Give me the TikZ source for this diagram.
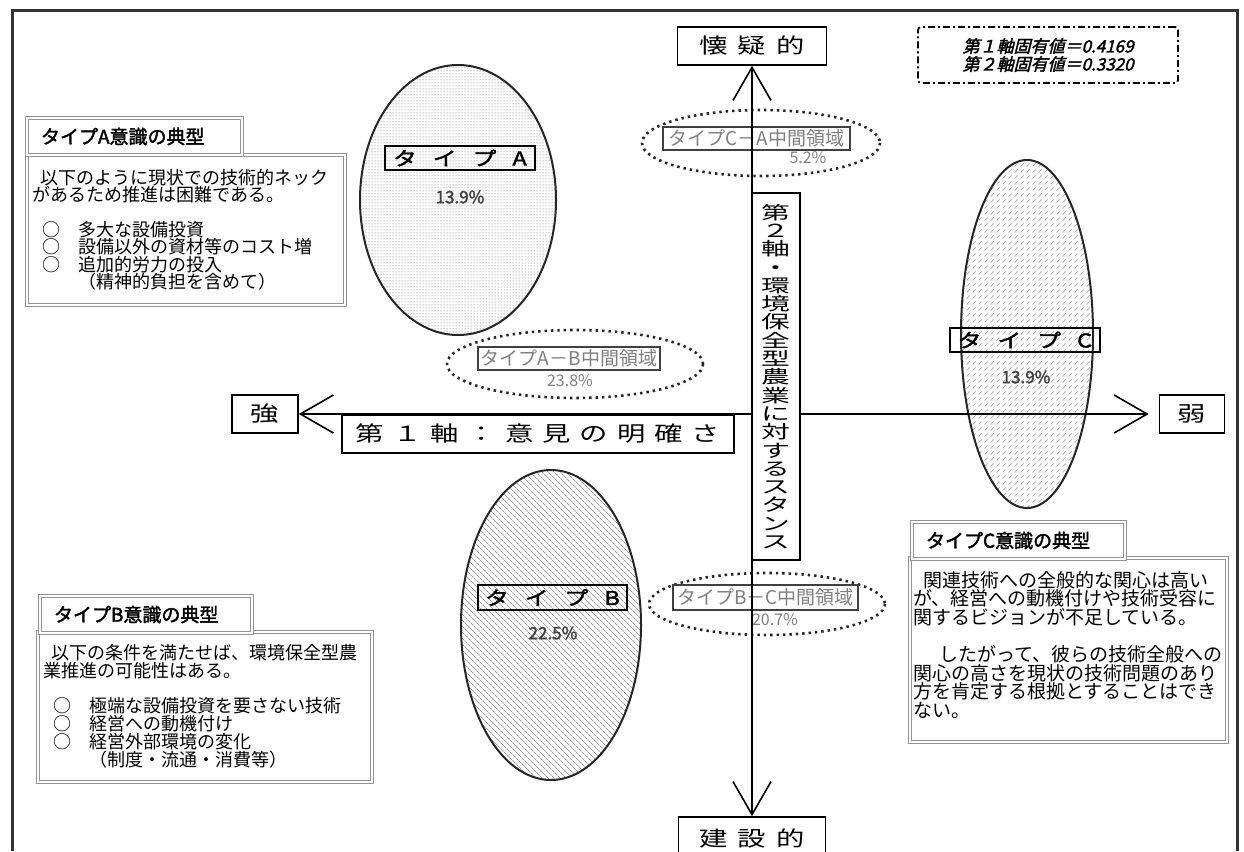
\documentclass[tikz,border=0pt]{standalone}
\usepackage{fontspec}
\setmainfont{Noto Sans CJK JP}
\newfontfamily\jpb[FakeBold=2]{Noto Sans CJK JP}
\newfontfamily\jpi[FakeSlant=0.25,FakeBold=2]{Noto Sans CJK JP}
\newfontfamily\jpw[FakeStretch=1.35]{Noto Sans CJK JP}
\newfontfamily\jpwb[FakeStretch=1.25,FakeBold=2]{Noto Sans CJK JP}
\newfontfamily\jpv[FakeStretch=1.6]{Noto Sans CJK JP}
\usetikzlibrary{arrows.meta,patterns,patterns.meta}
\lineskiplimit=-30pt
\newcommand\ggap{\hspace{16pt}}
\newcommand\agap{\hspace{9pt}}
\pgfdeclarepatternformonly{slashdash}{\pgfqpoint{-1pt}{-1pt}}{\pgfqpoint{7pt}{7pt}}{\pgfqpoint{6pt}{6pt}}{%
  \pgfsetlinewidth{0.7pt}\pgfpathmoveto{\pgfqpoint{0.5pt}{0.5pt}}\pgfpathlineto{\pgfqpoint{3.5pt}{3.5pt}}\pgfusepath{stroke}}
\begin{document}
\begin{tikzpicture}[x=1pt,y=-1pt,
  ell/.style={line width=2pt, draw=black!85},
  dotell/.style={line width=2.6pt, dash pattern=on 2.4pt off 4pt, draw=black!85},
  mlab/.style={draw, line width=2.4pt, minimum width=150pt, minimum height=24pt, inner sep=0pt, font=\jpwb\fontsize{19}{19}\selectfont},
  imlab/.style={draw=black!75, line width=1.3pt, minimum height=23pt, inner sep=1pt, text=black!50, font=\fontsize{19}{19}\selectfont},
  pct/.style={font=\jpb\fontsize{17}{17}\selectfont, text=black!75},
  ipct/.style={font=\fontsize{16}{16}\selectfont, text=black!50},
  alab/.style={draw, line width=1.6pt, fill=white, inner sep=0pt, font=\jpw\fontsize{21}{21}\selectfont},
  axisline/.style={line width=2.4pt, arrows={Straight Barb[length=33pt,width=38pt,line width=1.6pt]-Straight Barb[length=33pt,width=38pt,line width=1.6pt]}},
  dbox/.style={draw=gray!85, double=white, double distance=1.1pt, line width=1.3pt, fill=white, inner sep=0pt},
  tbox/.style={dbox, inner xsep=14pt, minimum height=37pt, align=left, font=\jpb\fontsize{19}{19}\selectfont},
  btxt/.style={anchor=north west, align=left, inner sep=0pt}
]
\useasboundingbox (0,0) rectangle (1244,851);
\clip (0,0) rectangle (1244,851);
\fill[white] (0,0) rectangle (1244,851);

% main ellipses
\draw[ell, pattern=dots, pattern color=black!60] (458,200) ellipse [x radius=98, y radius=135];
\draw[ell, pattern={Lines[angle=-45,distance=4pt,line width=0.8pt]}, pattern color=gray!80] (551,625) ellipse [x radius=90, y radius=155];
\draw[ell, pattern=slashdash, pattern color=gray!70] (1027,334) ellipse [x radius=66, y radius=174];

% intermediate dotted ellipses
\draw[dotell] (761,143) ellipse [x radius=119, y radius=33];
\draw[dotell] (575,364) ellipse [x radius=128, y radius=34];
\draw[dotell] (767,604) ellipse [x radius=118, y radius=31];

% type labels
\node[mlab] (labA) at (460,158) {タ\ggap イ\ggap プ\ggap A};
\node[pct] (pctA) at (460,197) {13.9\%};
\node[mlab, minimum width=149pt, minimum height=25pt] (labB) at (552.5,597.5) {タ\ggap イ\ggap プ\ggap B};
\node[pct] (pctB) at (553,633) {22.5\%};
\node[mlab] (labC) at (1025,340) {タ\ggap イ\ggap プ\ggap C};
\node[pct] (pctC) at (1026,377) {13.9\%};

\node[imlab, minimum width=187pt] (labCA) at (756.5,138.5) {タイプC－A中間領域};
\node[ipct] (pctCA) at (808,158) {5.2\%};
\node[imlab, minimum width=182pt] (labAB) at (569,358.5) {タイプA－B中間領域};
\node[ipct] (pctAB) at (570,381) {23.8\%};
\node[imlab, minimum width=185pt, minimum height=25pt] (labBC) at (765.5,597.5) {タイプB－C中間領域};
\node[ipct] (pctBC) at (775,620) {20.7\%};

% axis end labels
\node[alab, minimum width=149pt, minimum height=38pt] (kaigi) at (752,46) {懐\hspace{10pt}疑\hspace{10pt}的};
\node[alab, minimum width=147pt, minimum height=43pt] (kensetsu) at (752,838.5) {建\hspace{10pt}設\hspace{10pt}的};
\node[alab, minimum width=66pt, minimum height=38pt] (tsuyoi) at (265,414) {強};
\node[alab, minimum width=65pt, minimum height=38pt] (yowai) at (1192,414) {弱};

% axes
\draw[axisline] (kaigi.south) -- (kensetsu.north);
\draw[axisline, shorten >=10pt] (tsuyoi.east) -- (yowai.west);

% axis titles
\node[alab, minimum width=392pt, minimum height=38pt] (ax1) at (538,434) {第\agap １\agap 軸\agap ：\agap 意\agap 見\agap の\agap 明\agap 確\agap さ};
\node[draw, line width=1.6pt, fill=white, minimum width=48pt, minimum height=367pt, inner sep=0pt, align=center, font=\jpv\fontsize{18}{18.3}\selectfont] (ax2) at (776,376.5) {第\\２\\軸\\・\\環\\境\\保\\全\\型\\農\\業\\に\\対\\す\\る\\ス\\タ\\ン\\ス};

% type A description
\node[dbox, minimum width=318pt, minimum height=150pt] (aBody) at (186,230) {};
\node[tbox, text width=187pt] (aTitle) at (134.5,136.5) {タイプA意識の典型};
\node[btxt, font=\fontsize{18}{17.4}\selectfont] (aText) at (32,169) {%
\hspace*{8pt}以下のように現状での技術的ネック\\
があるため推進は困難である。\\
\mbox{}\\
\hspace*{10pt}○\hspace{18pt}多大な設備投資\\
\hspace*{10pt}○\hspace{18pt}設備以外の資材等のコスト増\\
\hspace*{10pt}○\hspace{18pt}追加的労力の投入\\
\hspace*{46pt}（精神的負担を含めて）};

% type B description
\node[dbox, minimum width=334pt, minimum height=150pt] (bBody) at (205,707) {};
\node[tbox, text width=184pt] (bTitle) at (146,614.5) {タイプB意識の典型};
\node[btxt, font=\fontsize{18}{17.8}\selectfont] (bText) at (43,644) {%
\hspace*{8pt}以下の条件を満たせば、環境保全型農\\
業推進の可能性はある。\\
\mbox{}\\
\hspace*{10pt}○\hspace{18pt}極端な設備投資を要さない技術\\
\hspace*{10pt}○\hspace{18pt}経営への動機付け\\
\hspace*{10pt}○\hspace{18pt}経営外部環境の変化\\
\hspace*{46pt}（制度・流通・消費等）};

% type C description
\node[dbox, minimum width=317pt, minimum height=184pt] (cBody) at (1068.5,650) {};
\node[tbox, text width=185pt] (cTitle) at (1018.5,540.5) {タイプC意識の典型};
\node[btxt, font=\fontsize{19}{18.6}\selectfont] (cText) at (913,571) {%
\hspace*{10pt}関連技術への全般的な関心は高い\\
が、経営への動機付けや技術受容に\\
関するビジョンが不足している。\\
\mbox{}\\
\hspace*{26pt}したがって、彼らの技術全般への\\
関心の高さを現状の技術問題のあり\\
方を肯定する根拠とすることはでき\\
ない。};

% eigenvalues
\node[draw, line width=1.8pt, dash pattern=on 7pt off 3pt on 2pt off 3pt, rounded corners=3pt, minimum width=260pt, minimum height=56pt, align=left, inner sep=0pt, font=\jpi\fontsize{17}{18}\selectfont] (eig) at (1048,55) {第１軸固有値＝0.4169\\第２軸固有値＝0.3320};

% outer frame
\draw[line width=3pt, black!80] (12,851) -- (12,11) -- (1237,11) -- (1237,851);
\end{tikzpicture}
\end{document}
